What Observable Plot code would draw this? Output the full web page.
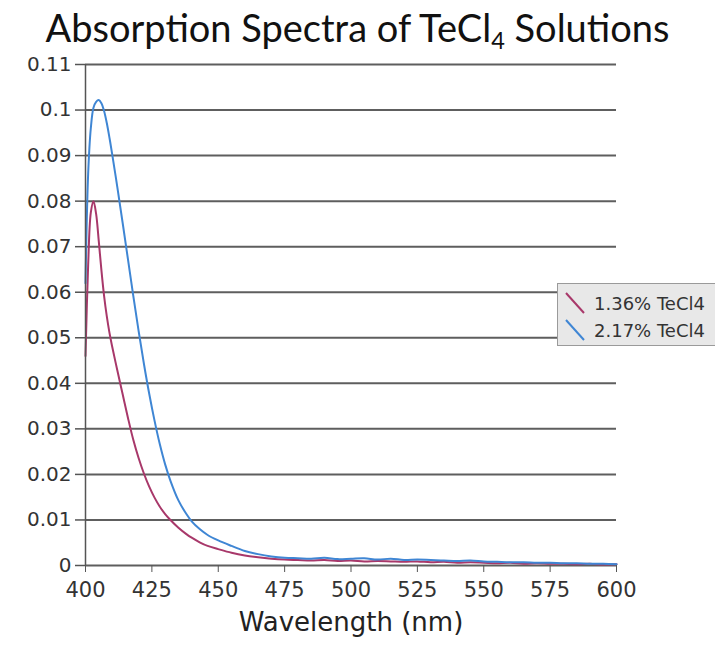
<!DOCTYPE html>
<html>
<head>
<meta charset="utf-8">
<script src="https://cdn.jsdelivr.net/npm/d3@7"></script>
<script src="https://cdn.jsdelivr.net/npm/@observablehq/plot@0.6"></script>
<style>
  html, body { margin: 0; padding: 0; background: #fff; }
  #wrap { position: relative; width: 715px; height: 647px; overflow: hidden; }
  #title { height: 52px; box-sizing: border-box; padding-top: 5px; font-family: Lato, "Open Sans", sans-serif; font-size: 38px; line-height: 1.2; text-align: center; color: #111; white-space: nowrap; }
  #title sub { font-size: 0.62em; vertical-align: -0.28em; line-height: 0; }
  #legend { position: absolute; left: 557px; top: 283px; width: 158px; height: 63px; box-sizing: border-box; background: #e8e8e8; border: 1px solid #9a9a9a; border-right: none; font-family: "DejaVu Sans", sans-serif; font-size: 18px; color: #333; }
  .row { position: absolute; left: 6px; height: 26px; display: flex; align-items: center; white-space: nowrap; }
  .row svg { margin-right: 8px; }
</style>
</head>
<body>
<div id="wrap">
  <div id="title">Absorption Spectra of TeCl<sub>4</sub> Solutions</div>
  <div id="chart"></div>
  <div id="legend"></div>
</div>
<script>
const seriesNames = ["1.36% TeCl4", "2.17% TeCl4"];
const seriesColors = ["#a8386a", "#3f86d4"];

const wavelengths = [400,401,402,403,404,405,406,407,408,409,410,412,414,416,418,420,422,424,426,428,430,432,435,438,440,443,446,450,455,460,465,470,475,480,485,490,495,500,505,510,515,520,525,530,535,540,545,550,555,560,565,570,575,580,585,590,595,600];

const abs136 = [0.046,0.066,0.0775,0.0800,0.0772,0.0712,0.0648,0.0592,0.0548,0.0512,0.0482,0.0428,0.0376,0.0324,0.0276,0.0236,0.0202,0.0173,0.0149,0.0129,0.0113,0.0100,0.0083,0.0069,0.0061,0.0051,0.0043,0.0036,0.0028,0.0022,0.0018,0.0015,0.0013,0.0012,0.0011,0.0012,0.0010,0.0011,0.0009,0.0010,0.0009,0.0008,0.0009,0.0007,0.0008,0.0006,0.0007,0.0006,0.0005,0.0006,0.0004,0.0005,0.0004,0.0004,0.0003,0.0004,0.0002,0.0003];

const abs217 = [0.062,0.086,0.096,0.1005,0.1018,0.1022,0.1015,0.0998,0.0972,0.0940,0.0905,0.0830,0.0752,0.0672,0.0592,0.0515,0.0443,0.0377,0.0318,0.0266,0.0222,0.0186,0.0143,0.0113,0.0097,0.0080,0.0067,0.0055,0.0043,0.0032,0.0025,0.0020,0.0017,0.0016,0.0015,0.0017,0.0014,0.0015,0.0016,0.0013,0.0015,0.0012,0.0013,0.0012,0.0011,0.0010,0.0011,0.0009,0.0008,0.0007,0.0007,0.0006,0.0006,0.0005,0.0005,0.0004,0.0004,0.0003];

const yTicks = [0,0.01,0.02,0.03,0.04,0.05,0.06,0.07,0.08,0.09,0.1,0.11];
const yTickLabels = ["0","0.01","0.02","0.03","0.04","0.05","0.06","0.07","0.08","0.09","0.1","0.11"];
const xTicks = [400,425,450,475,500,525,550,575,600];
const xLabel = "Wavelength (nm)";

const data = [];
wavelengths.forEach((w, i) => {
  data.push({wl: w, a: abs136[i], series: seriesNames[0]});
});
wavelengths.forEach((w, i) => {
  data.push({wl: w, a: abs217[i], series: seriesNames[1]});
});

const yFmt = d => {
  const i = yTicks.findIndex(t => Math.abs(t - d) < 1e-9);
  return i >= 0 ? yTickLabels[i] : "";
};

const chart = Plot.plot({
  width: 715,
  height: 595,
  marginTop: 12,
  marginBottom: 82,
  marginLeft: 85,
  marginRight: 99,
  style: {fontFamily: "DejaVu Sans, sans-serif", background: "transparent", color: "#333", overflow: "visible"},
  x: {domain: [400, 600]},
  y: {domain: [0, 0.11]},
  color: {domain: seriesNames, range: seriesColors},
  marks: [
    Plot.ruleY(yTicks, {stroke: "#5e5e5e", strokeWidth: 2}),
    Plot.line(data, {x: "wl", y: "a", z: "series", stroke: "series", curve: "catmull-rom", strokeWidth: 2}),
    Plot.ruleX([400], {y1: 0, y2: 0.11, stroke: "#555", strokeWidth: 1.5}),
    Plot.axisY({ticks: yTicks, tickFormat: yFmt, tickSize: 10, tickPadding: 4, fontSize: 20, stroke: "#555", strokeWidth: 1.5, label: null}),
    Plot.axisX({ticks: xTicks, tickSize: 7, tickPadding: 10, fontSize: 21, stroke: "#555", label: null}),
    Plot.text([xLabel], {frameAnchor: "bottom", dy: 65, fontSize: 26, fill: "#222", text: d => d})
  ]
});
document.getElementById("chart").appendChild(chart);

const legend = document.getElementById("legend");
seriesNames.forEach((name, i) => {
  const row = document.createElement("div");
  row.className = "row";
  row.style.top = (6 + i * 27) + "px";
  row.innerHTML = `<svg width="22" height="24"><line x1="2" y1="2" x2="20" y2="22" stroke="${seriesColors[i]}" stroke-width="2"/></svg><span>${name}</span>`;
  legend.appendChild(row);
});
</script>
</body>
</html>
